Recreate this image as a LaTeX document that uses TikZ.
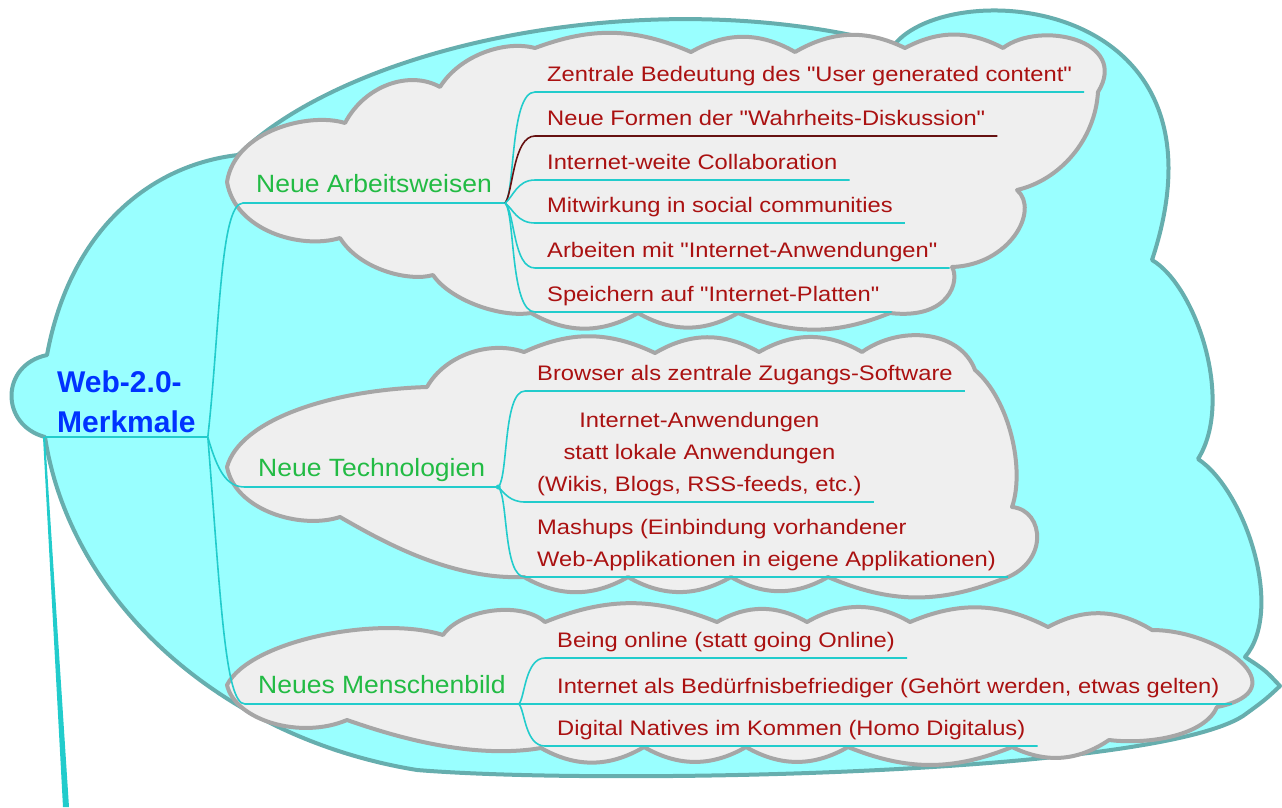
\documentclass[tikz,border=0pt]{standalone}
\usepackage{fontspec}
\setmainfont{Liberation Sans}
\newfontfamily\leaffont[FakeStretch=1.13]{Liberation Sans}
\newfontfamily\branchfont[FakeStretch=1.06]{Liberation Sans}
\usepackage{tikz}
\usetikzlibrary{calc}
\definecolor{skyfill}{HTML}{99FFFF}
\definecolor{skyline}{HTML}{66AEAE}
\definecolor{cloudfill}{HTML}{EFEFEF}
\definecolor{cloudline}{HTML}{A6A6A6}
\definecolor{linkcol}{HTML}{22CCCC}
\definecolor{leafred}{HTML}{AA1111}
\definecolor{branchgreen}{HTML}{22BB44}
\definecolor{rootblue}{HTML}{0033FF}
\definecolor{marooncol}{HTML}{661111}

\begin{document}
\begin{tikzpicture}[x=1pt,y=-1pt,
  outercloud/.style={fill=skyfill,draw=skyline,line width=4pt,line join=round},
  greycloud/.style={fill=cloudfill,draw=cloudline,line width=4pt,line join=round},
  link/.style={draw=linkcol,line width=1.6pt},
  rootnode/.style={font=\bfseries\fontsize{30}{40}\selectfont,text=rootblue,align=left,inner xsep=12pt,inner ysep=0pt,text depth=4pt,anchor=south west},
  branch/.style={font=\branchfont\fontsize{25}{30}\selectfont,text=branchgreen,inner xsep=13pt,inner ysep=0pt,text depth=10pt,anchor=south west},
  leaf/.style={font=\leaffont\fontsize{21}{32}\selectfont,text=leafred,inner xsep=12pt,inner ysep=0pt,text depth=10pt,anchor=south west}]
\useasboundingbox (0,0) rectangle (1282,807);

\draw[outercloud] (45,437) .. controls (0,425) and (0,365) .. (47,355)
  .. controls (70,230) and (150,165) .. (238,155)
  .. controls (350,45) and (650,-20) .. (894,45)
  .. controls (950,-25) and (1240,-5) .. (1152,260)
  .. controls (1195,285) and (1235,400) .. (1198,459)
  .. controls (1245,490) and (1285,610) .. (1245,657)
  .. controls (1265,670) .. (1280,686)
  .. controls (1265,700) .. (1243,716)
  .. controls (1150,775) and (600,785) .. (417,770)
  .. controls (220,738) and (70,600) .. (45,437) -- cycle;

\draw[greycloud] (227,182) .. controls (235,130) and (310,112) .. (345,123)
  .. controls (365,85) and (410,70) .. (440,87)
  .. controls (460,55) and (505,40) .. (535,48)
  to[bend left=22] (691,52) to[bend left=30] (795,52) to[bend left=28] (905,48) to[bend left=28] (1003,48)
  .. controls (1040,20) and (1130,40) .. (1098,92)
  .. controls (1095,140) and (1060,180) .. (1017,190)
  .. controls (1040,210) and (1010,265) .. (952,267)
  .. controls (960,280) and (950,320) .. (890,313)
  to[bend left=22] (738,313) to[bend left=30] (638,313) to[bend left=30] (531,313)
  .. controls (500,318) and (450,300) .. (433,275)
  .. controls (410,282) and (360,270) .. (340,238)
  .. controls (300,250) and (235,230) .. (227,182) -- cycle;

\draw[greycloud] (227,467) .. controls (240,420) and (330,390) .. (427,387)
  .. controls (445,355) and (490,340) .. (524,352)
  to[bend left=25] (655,353) to[bend left=30] (759,352) to[bend left=30] (862,352)
  .. controls (900,325) and (960,330) .. (975,370)
  .. controls (1010,400) and (1025,470) .. (1012,507)
  .. controls (1045,510) and (1050,565) .. (1000,580)
  to[bend left=22] (828,577) to[bend left=30] (731,577) to[bend left=30] (628,577) to[bend left=30] (524,577)
  .. controls (450,580) and (380,540) .. (340,517)
  .. controls (300,530) and (235,510) .. (227,467) -- cycle;

\draw[greycloud] (227,685) .. controls (250,640) and (380,615) .. (443,635)
  .. controls (460,610) and (520,600) .. (545,622)
  to[bend left=22] (717,622) to[bend left=30] (807,622) to[bend left=30] (910,622) to[bend left=25] (1048,627) to[bend left=30] (1152,630)
  .. controls (1220,630) and (1300,690) .. (1217,707)
  .. controls (1205,735) and (1150,745) .. (1109,740)
  to[bend left=30] (1012,747) to[bend left=22] (848,747) to[bend left=30] (746,747) to[bend left=30] (644,747) to[bend left=30] (541,748)
  .. controls (470,760) and (390,735) .. (347,720)
  .. controls (300,740) and (235,720) .. (227,685) -- cycle;

\node[rootnode] (r) at (45,437) {Web-2.0-\\Merkmale};
\node[branch] (b1) at (243,203) {Neue Arbeitsweisen};
\node[branch] (b2) at (245,487) {Neue Technologien};
\node[branch] (b3) at (245,704) {Neues Menschenbild};

\node[leaf] (a1) at (535,92) {Zentrale Bedeutung des "User generated content"};
\node[leaf] (a2) at (535,136) {Neue Formen der "Wahrheits-Diskussion"};
\node[leaf] (a3) at (535,180) {Internet-weite Collaboration};
\node[leaf] (a4) at (535,223) {Mitwirkung in social communities};
\node[leaf] (a5) at (535,268) {Arbeiten mit "Internet-Anwendungen"};
\node[leaf] (a6) at (535,312) {Speichern auf "Internet-Platten"};

\node[leaf] (c1) at (525,391) {Browser als zentrale Zugangs-Software};
\node[leaf,align=center] (c2) at (525,502) {Internet-Anwendungen\\statt lokale Anwendungen\\(Wikis, Blogs, RSS-feeds, etc.)};
\node[leaf,align=left] (c3) at (525,577) {Mashups (Einbindung vorhandener\\Web-Applikationen in eigene Applikationen)};

\node[leaf] (d1) at (545,658) {Being online (statt going Online)};
\node[leaf] (d2) at (545,704) {Internet als Bedürfnisbefriediger (Gehört werden, etwas gelten)};
\node[leaf] (d3) at (545,746) {Digital Natives im Kommen (Homo Digitalus)};

\coordinate (tail) at (66,807);
\fill[linkcol] (r.south west) -- ([xshift=-2pt]r.south west) -- ([xshift=-3pt]tail) -- ([xshift=3pt]tail) -- cycle;
\draw[link] (r.south west) -- (r.south east);

\draw[link] (r.south east) .. controls +(12,-107) and +(-23,0) .. (b1.south west) -- (b1.south east);
\draw[link] (r.south east) .. controls +(10,35) and +(-18,0) .. (b2.south west) -- (b2.south east);
\draw[link] (r.south east) .. controls +(13,163) and +(-20,0) .. (b3.south west) -- (b3.south east);

\draw[link] (b1.south east) .. controls +(10,-10) and +(-25,0) .. (a1.south west) -- (a1.south east);
\draw[link,draw=marooncol] (b1.south east) .. controls +(8,-10) and +(-22,0) .. (a2.south west) -- (a2.south east);
\draw[link] (b1.south east) .. controls +(8,-6) and +(-18,0) .. (a3.south west) -- (a3.south east);
\draw[link] (b1.south east) .. controls +(8,6) and +(-18,0) .. (a4.south west) -- (a4.south east);
\draw[link] (b1.south east) .. controls +(10,10) and +(-22,0) .. (a5.south west) -- (a5.south east);
\draw[link] (b1.south east) .. controls +(10,10) and +(-25,0) .. (a6.south west) -- (a6.south east);

\draw[link] (b2.south east) .. controls +(10,-10) and +(-22,0) .. (c1.south west) -- (c1.south east);
\draw[link] (b2.south east) .. controls +(6,6) and +(-15,0) .. (c2.south west) -- (c2.south east);
\draw[link] (b2.south east) .. controls +(10,10) and +(-22,0) .. (c3.south west) -- (c3.south east);
\fill[linkcol] (b2.south east) circle (2.5pt);

\draw[link] (b3.south east) .. controls +(6,-6) and +(-20,0) .. (d1.south west) -- (d1.south east);
\draw[link] (b3.south east) -- (d2.south west) -- (d2.south east);
\draw[link] (b3.south east) .. controls +(6,6) and +(-20,0) .. (d3.south west) -- (d3.south east);
\end{tikzpicture}
\end{document}
